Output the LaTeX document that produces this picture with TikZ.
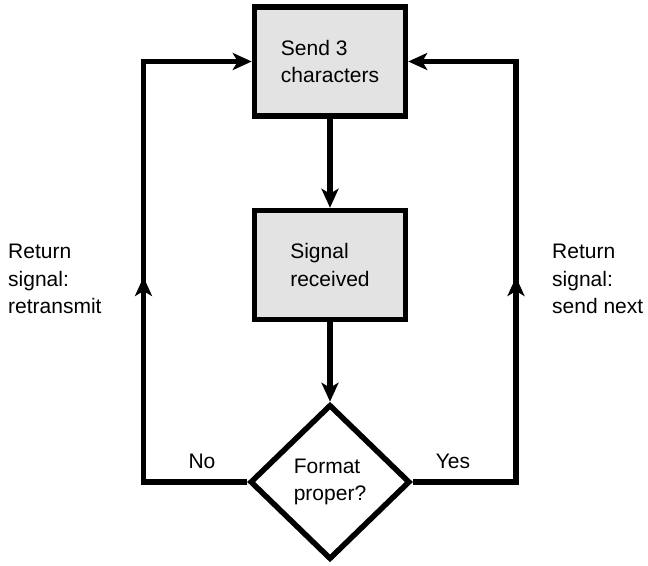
\documentclass[tikz,border=0pt]{standalone}
\usepackage{fontspec}
\setmainfont{Liberation Sans}
\usetikzlibrary{arrows.meta,shapes.geometric}
\tikzset{
  flow box/.style={
    draw,fill=black!11,line width=5.5pt,minimum width=151pt,minimum height=109pt,
    inner sep=0pt,align=left
  },
  flow test/.style={
    diamond,draw,fill=white,line width=5.5pt,minimum width=160pt,minimum height=155pt,
    inner sep=0pt,align=left
  },
  flow line/.style={line width=5.5pt},
  flow arrow/.style={flow line,-{Stealth[length=19pt,width=17pt,inset=5pt]}},
  side label/.style={align=left,inner sep=0pt,anchor=north west},
  every node/.style={font=\fontsize{21}{27.5}\selectfont}
}

\begin{document}
\begin{tikzpicture}[x=1pt,y=1pt]
  \useasboundingbox (0,0) rectangle (648,565);
  \node[flow box] (send) at (330,503.5) {Send 3\\characters};
  \node[flow box] (recv) at (330,300) {Signal\\received};
  \node[flow test] (fmt) at (330,83) {Format\\proper?};
  \coordinate (lcorner) at (143.5,503.5);
  \coordinate (rcorner) at (516,503.5);
  \coordinate (lmid) at (143.5,288);
  \coordinate (rmid) at (516,288);
  \draw[flow arrow] (send) -- (recv);
  \draw[flow arrow] (recv) -- (fmt);
  % return loops, with a head half way up
  \draw[flow arrow] (fmt.west) -| (lcorner) -- (send.west);
  \draw[flow arrow] (fmt.west) -| (lmid);
  \draw[flow arrow] (fmt.east) -| (rcorner) -- (send.east);
  \draw[flow arrow] (fmt.east) -| (rmid);
  \node (no) at (202,104) {No};
  \node (yes) at (453,104) {Yes};
  \node[side label] (retr) at (8,321) {Return\\signal:\\retransmit};
  \node[side label] (next) at (552,321) {Return\\signal:\\send next};
\end{tikzpicture}
\end{document}
